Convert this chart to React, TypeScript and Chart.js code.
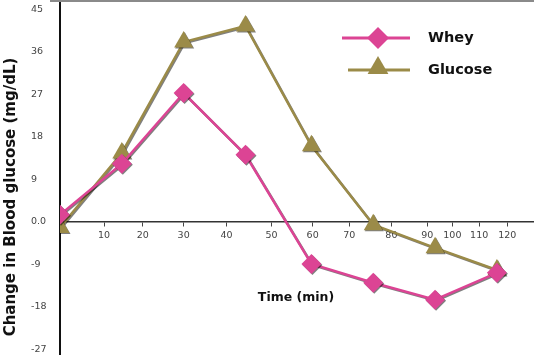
import React, { useEffect, useRef } from "react";
import { Chart, registerables } from "chart.js";

Chart.register(...registerables);

// ---- data ----
const seriesNames = ["Whey", "Glucose"];
const timePoints = [0, 15, 30, 45, 61, 76, 91, 106];
const wheyValues = [1.5, 12.3, 27.3, 14.2, -8.9, -12.9, -16.5, -10.8];
const glucoseValues = [-1.2, 14.6, 38.1, 41.5, 16.1, -0.6, -5.5, -10.2];
const xTickPositions = [10.7, 20.1, 30, 40.4, 51.3, 61.3, 70.2, 80.4, 89.1, 95.2, 101.7, 108.5];
const xTickLabels = ["10", "20", "30", "40", "50", "60", "70", "80", "90", "100", "110", "120"];
const yTickValues = [-27, -18, -9, 0, 9, 18, 27, 36, 45];
const xTitle = "Time (min)";
const yTitle = "Change in Blood glucose (mg/dL)";

const PINK = "#DC4494";
const OLIVE = "#9B8B48";
const FONT = "'DejaVu Sans', Verdana, sans-serif";

function drawMarker(ctx: CanvasRenderingContext2D, style: string, x: number, y: number, r: number) {
  ctx.beginPath();
  if (style === "rectRot") {
    ctx.moveTo(x, y - r);
    ctx.lineTo(x + r, y);
    ctx.lineTo(x, y + r);
    ctx.lineTo(x - r, y);
  } else {
    const a = (2 * Math.PI) / 3;
    ctx.moveTo(x, y - r);
    ctx.lineTo(x + Math.sin(a) * r, y - Math.cos(a) * r);
    ctx.lineTo(x + Math.sin(2 * a) * r, y - Math.cos(2 * a) * r);
  }
  ctx.closePath();
  ctx.fill();
}

const decorPlugin = {
  id: "decor",
  beforeDatasetsDraw(chart: any) {
    const ctx = chart.ctx;
    ctx.save();
    ctx.shadowColor = "rgba(0,0,0,0.5)";
    ctx.shadowOffsetX = 1;
    ctx.shadowOffsetY = 1;
    ctx.shadowBlur = 0;
  },
  afterDatasetsDraw(chart: any) {
    chart.ctx.restore();
  },
  afterDraw(chart: any) {
    const ctx: CanvasRenderingContext2D = chart.ctx;
    const w = chart.width;
    // top border line
    ctx.save();
    ctx.strokeStyle = "#8a8a8a";
    ctx.lineWidth = 2;
    ctx.beginPath();
    ctx.moveTo(50, 1);
    ctx.lineTo(w, 1);
    ctx.stroke();
    ctx.restore();

    // axis titles
    ctx.save();
    ctx.fillStyle = "#111";
    ctx.textAlign = "center";
    ctx.textBaseline = "middle";
    ctx.font = `bold 15px ${FONT}`;
    ctx.translate(11, 197);
    ctx.rotate(-Math.PI / 2);
    ctx.fillText(yTitle, 0, 0);
    ctx.restore();

    ctx.save();
    ctx.fillStyle = "#111";
    ctx.textAlign = "center";
    ctx.textBaseline = "middle";
    ctx.font = `bold 12.5px ${FONT}`;
    ctx.fillText(xTitle, 296, 298);
    ctx.restore();

    // legend
    chart.data.datasets.forEach((ds: any, i: number) => {
      const y = 38 + i * 32;
      ctx.save();
      ctx.strokeStyle = ds.borderColor;
      ctx.fillStyle = ds.backgroundColor;
      ctx.lineWidth = 3;
      ctx.beginPath();
      ctx.moveTo(i === 0 ? 342 : 348, y);
      ctx.lineTo(410, y);
      ctx.stroke();
      drawMarker(ctx, ds.pointStyle, 378, i === 0 ? y : y - 2, ds.pointRadius + 1);
      ctx.fillStyle = "#111";
      ctx.font = `bold 14.5px ${FONT}`;
      ctx.textAlign = "left";
      ctx.textBaseline = "middle";
      ctx.fillText(ds.label, 428, y);
      ctx.restore();
    });
  },
};

export default function App() {
  const ref = useRef<HTMLCanvasElement>(null);
  useEffect(() => {
    if (!ref.current) return;
    const tickFont = { family: FONT, size: 9.5 };
    const chart = new Chart(ref.current, {
      type: "line",
      data: {
        datasets: [
          {
            label: seriesNames[0],
            data: timePoints.map((t, i) => ({ x: t, y: wheyValues[i] })),
            borderColor: PINK,
            backgroundColor: PINK,
            pointStyle: "rectRot",
            pointRadius: 10,
            pointBorderWidth: 0,
            borderWidth: 2.5,
            tension: 0,
          },
          {
            label: seriesNames[1],
            data: timePoints.map((t, i) => ({ x: t, y: glucoseValues[i] })),
            borderColor: OLIVE,
            backgroundColor: OLIVE,
            pointStyle: "triangle",
            pointRadius: 11,
            pointBorderWidth: 0,
            borderWidth: 2.5,
            tension: 0,
          },
        ],
      },
      options: {
        animation: false,
        responsive: false,
        layout: { autoPadding: false, padding: { left: 31, top: 0, right: 0, bottom: 0 } },
        plugins: { legend: { display: false }, tooltip: { enabled: false } },
        scales: {
          x: {
            type: "linear",
            min: 0,
            max: 115,
            position: { y: 0 } as any,
            afterBuildTicks: (s: any) => {
              s.ticks = xTickPositions.map((v) => ({ value: v }));
            },
            afterFit: (s: any) => {
              s.height = 0;
              s.paddingLeft = 0;
              s.paddingRight = 0;
              s.paddingTop = 0;
              s.paddingBottom = 0;
            },
            ticks: {
              callback: (_v: any, i: number) => xTickLabels[i],
              font: tickFont,
              color: "#444",
              padding: 4,
              maxRotation: 0,
              autoSkip: false,
            },
            grid: { drawOnChartArea: false, drawTicks: true, tickLength: 4, color: "#444" },
            border: { color: "#333", width: 1.5 },
          },
          y: {
            type: "linear",
            min: -28.2,
            max: 47,
            afterBuildTicks: (s: any) => {
              s.ticks = yTickValues.map((v) => ({ value: v }));
            },
            afterFit: (s: any) => {
              s.width = 29;
              s.paddingTop = 0;
              s.paddingBottom = 0;
            },
            ticks: {
              callback: (v: any) => (v === 0 ? "0.0" : String(v)),
              crossAlign: "far",
              font: tickFont,
              color: "#444",
            },
            grid: { drawOnChartArea: false, drawTicks: false },
            border: { color: "#111", width: 2 },
          },
        },
      },
      plugins: [decorPlugin],
    } as any);
    return () => chart.destroy();
  }, []);
  return (
    <div style={{ position: "absolute", left: 0, top: 0, width: 534, height: 355, background: "#fff" }}>
      <canvas ref={ref} width={534} height={355} />
    </div>
  );
}
